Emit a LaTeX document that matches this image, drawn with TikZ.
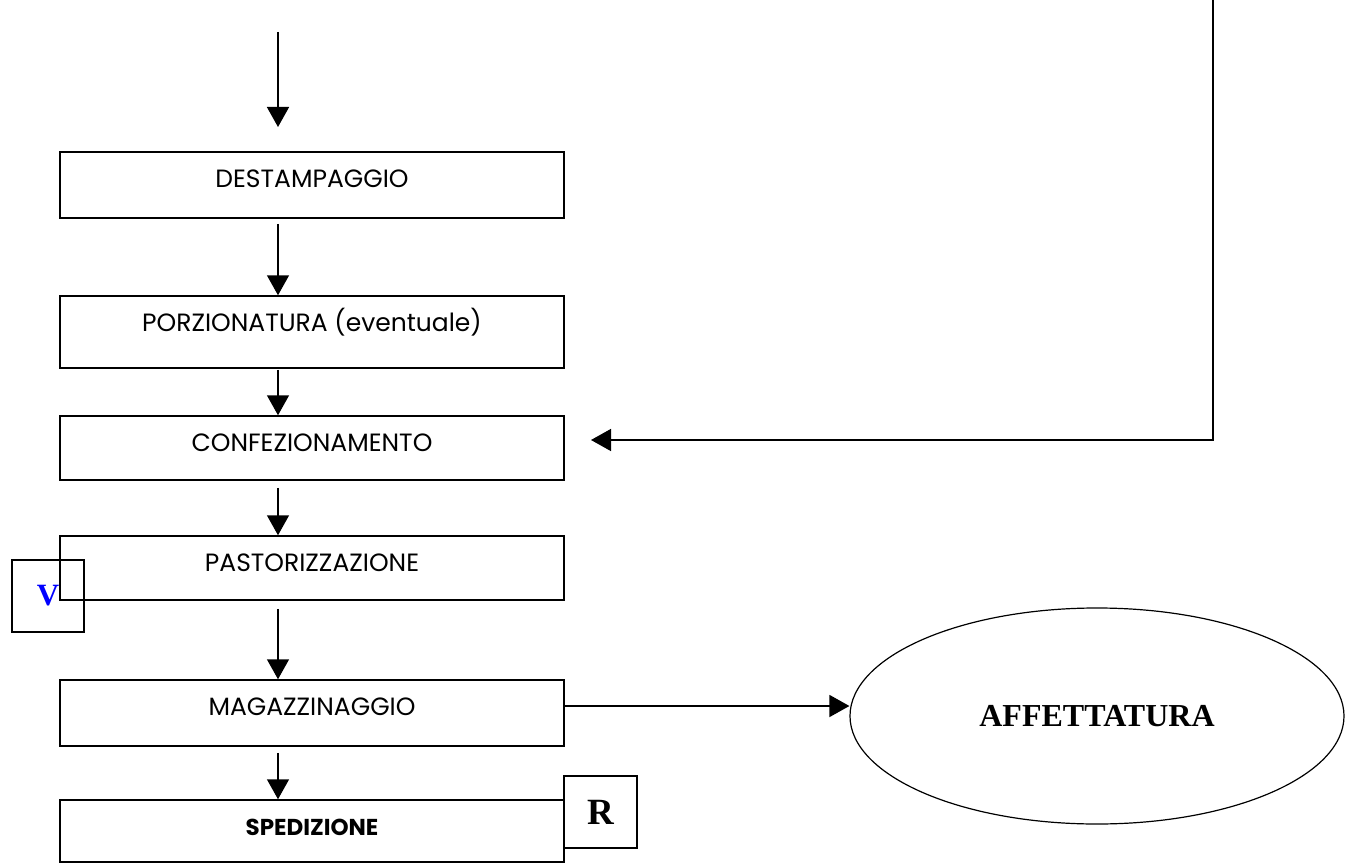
\documentclass[tikz,border=0pt]{standalone}
\usepackage{fontspec}
\usepackage{tikz}
\usetikzlibrary{arrows.meta,shapes.geometric}
\newfontfamily\tagfont{Liberation Serif}
\newfontfamily\boxfam{Poppins}
\newcommand\boxfont{\boxfam\fontsize{25}{29}\selectfont}

\begin{document}
\begin{tikzpicture}[x=1pt,y=-1pt,
    stepbox/.style={draw, line width=1.5pt, minimum width=504pt, inner sep=0pt, text height=17.5pt, font=\boxfont},
    tagbox/.style={draw, line width=1.5pt, minimum width=72pt, minimum height=72pt, inner sep=0pt},
    flow/.style={line width=1.5pt, -{Triangle[length=20pt,width=22pt]}}]
    \useasboundingbox (0,0) rectangle (1349,864);
    % process steps
    \node[stepbox, minimum height=66pt, text depth=12pt] (dest) at (312,185) {DESTAMPAGGIO};
    \node[stepbox, minimum height=72pt, text depth=18pt] (porz) at (312,332) {PORZIONATURA (eventuale)};
    \node[stepbox, minimum height=64pt, text depth=10pt] (conf) at (312,448) {CONFEZIONAMENTO};
    \node[stepbox, minimum height=64pt, text depth=10pt] (past) at (312,568) {PASTORIZZAZIONE};
    \node[stepbox, minimum height=66pt, text depth=12pt] (mag) at (312,713) {MAGAZZINAGGIO};
    \node[stepbox, minimum height=62pt, text depth=8pt, font=\boxfam\bfseries\fontsize{23}{27}\selectfont] (sped) at (312,831) {SPEDIZIONE};
    \node[tagbox, text=blue, font=\tagfont\bfseries\fontsize{31}{31}\selectfont] (v) at (48,596) {V};
    \node[tagbox, minimum width=73pt, font=\tagfont\bfseries\fontsize{37}{37}\selectfont] (r) at (600.5,812) {R};
    \node[draw, ellipse, line width=1.2pt, minimum width=494pt, minimum height=216pt, inner sep=0pt,
          font=\tagfont\bfseries\fontsize{32}{32}\selectfont] (aff) at (1097,716) {AFFETTATURA};
    % arrows
    \coordinate (in) at (278,32);
    \coordinate (intip) at (278,127);
    \draw[flow] (in) -- (intip);
    \foreach \a/\b/\g in {dest/porz/5, porz/conf/1, conf/past/7, past/mag/8, mag/sped/6}
        \draw[flow] ([xshift=-34pt,yshift=-\g pt]\a.south) -- ([xshift=-34pt]\b.north);
    \coordinate (back) at (1213,0);
    \coordinate (backtip) at (591,440);
    \draw[flow] (back) |- (backtip);
    \draw[flow] ([yshift=7pt]mag.east) -- ([yshift=7pt]mag.east -| aff.west);
\end{tikzpicture}
\end{document}
